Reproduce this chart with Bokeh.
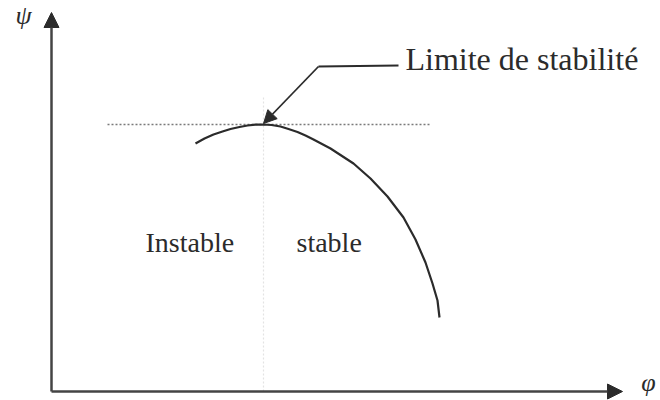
from bokeh.plotting import figure
from bokeh.models import Range1d, Arrow, NormalHead, Label, ColumnDataSource
from bokeh.embed import file_html
from bokeh.resources import INLINE
from bokeh.core.properties import value

# ---- data (diagram units; origin at axes intersection) ----
phi = [144, 153, 162, 171, 179, 188, 196, 204, 212, 220, 229, 237, 246, 254, 262, 279,
       302, 319, 336, 352, 364, 374, 381, 386, 388]
psi = [248, 253, 257, 260, 262.5, 264.5, 266, 266.8, 267, 266.5, 265, 262.5, 259.5, 256, 252, 243,
       228, 213, 195, 174, 152, 129, 108, 91, 74]

region_labels = ["Instable", "stable"]
annotation_text = "Limite de stabilité"
axis_labels = ["ψ", "φ"]

# derived: stability limit = top of the curve
i_max = psi.index(max(psi))
phi_c, psi_c = phi[i_max], psi[i_max]

FONT = "Liberation Serif"
INK = "#2b2b2b"

p = figure(width=660, height=400,
           x_range=Range1d(-51, 609), y_range=Range1d(-9, 391),
           output_backend="svg", toolbar_location=None,
           x_axis_location=None, y_axis_location=None,
           min_border=0, outline_line_color=None,
           background_fill_color="white", border_fill_color="white")
p.xgrid.visible = False
p.ygrid.visible = False

# faint vertical line at stability limit
p.line([phi_c, phi_c], [0, 295], line_color="#e3e3e3", line_width=1.2, line_dash="2 2")
# dotted horizontal line at the max
p.line([56, 379], [psi_c, psi_c], line_color="#7a7a7a", line_width=1.4, line_dash="2 2")

# curve
p.line(phi, psi, line_color=INK, line_width=2.2, line_join="round")

# axes arrows
p.add_layout(Arrow(end=NormalHead(size=15, fill_color=INK, line_color=INK),
                   x_start=0, y_start=0, x_end=0, y_end=379,
                   line_color="#444444", line_width=2.5))
p.add_layout(Arrow(end=NormalHead(size=15, fill_color=INK, line_color=INK),
                   x_start=0, y_start=0, x_end=571, y_end=0,
                   line_color="#444444", line_width=2.5))

# leader line for annotation
p.line([347, 267], [326, 325], line_color=INK, line_width=1.8)
p.add_layout(Arrow(end=NormalHead(size=13, fill_color=INK, line_color=INK),
                   x_start=267, y_start=325, x_end=phi_c, y_end=psi_c + 1,
                   line_color=INK, line_width=1.8))

p.add_layout(Label(x=354, y=333, text=annotation_text, text_font=FONT,
                   text_font_size="32px", text_color=INK,
                   text_baseline="middle", text_align="left"))

src = ColumnDataSource(dict(x=[94, 245], y=[149, 149], t=region_labels))
p.text(x="x", y="y", text="t", source=src, text_font=value(FONT),
       text_font_size="28px", text_color=INK,
       text_baseline="middle", text_align="left")

p.add_layout(Label(x=-28, y=376, text=axis_labels[0], text_font=FONT,
                   text_font_size="26px", text_font_style="italic", text_color=INK,
                   text_baseline="middle", text_align="center"))
p.add_layout(Label(x=597, y=9, text=axis_labels[1], text_font=FONT,
                   text_font_size="26px", text_font_style="italic", text_color=INK,
                   text_baseline="middle", text_align="center"))

open("out.html", "w").write(file_html(p, INLINE))
